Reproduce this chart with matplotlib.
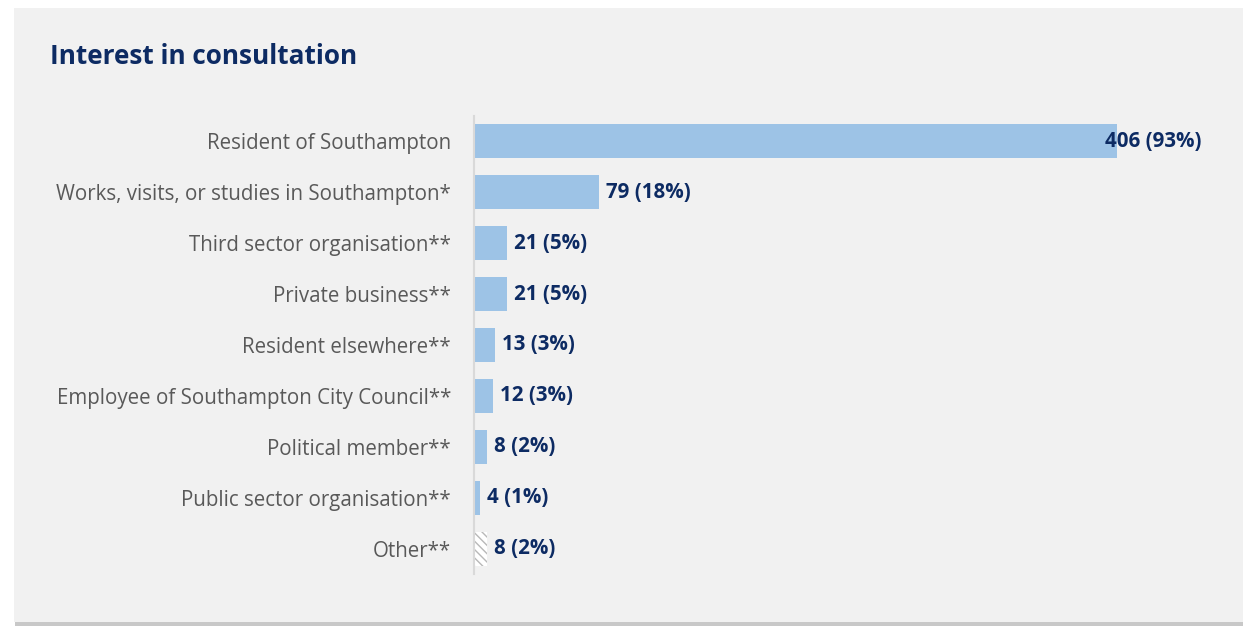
import matplotlib.pyplot as plt
from matplotlib.patches import Rectangle

# ---------- dados ----------
categories = [
    "Resident of Southampton",
    "Works, visits, or studies in Southampton*",
    "Third sector organisation**",
    "Private business**",
    "Resident elsewhere**",
    "Employee of Southampton City Council**",
    "Political member**",
    "Public sector organisation**",
    "Other**",
]
counts = [406, 79, 21, 21, 13, 12, 8, 4, 8]
percents = [93, 18, 5, 5, 3, 3, 2, 1, 2]
# -------------------------------------------

NAVY = "#0d2b63"
BAR = "#9dc3e6"
GREY_TXT = "#595959"
PANEL = "#f1f1f1"

W, H, DPI = 1243, 627, 100
plt.rcParams["font.family"] = ["Open Sans", "DejaVu Sans"]

fig = plt.figure(figsize=(W / DPI, H / DPI), dpi=DPI)
fig.patch.set_facecolor("white")

# painel com sombra
fig.patches.append(Rectangle((15 / W, 1 - 626 / H), 1.2, (626 - 9) / H,
                             transform=fig.transFigure, facecolor="#c8c8c8",
                             edgecolor="none", zorder=-10))
fig.patches.append(Rectangle((14 / W, 1 - 622 / H), 1.2, (622 - 8) / H,
                             transform=fig.transFigure, facecolor=PANEL,
                             edgecolor="none", zorder=-9))

fig.text(50 / W, 1 - 57 / H, "Interest in consultation", fontsize=18.8,
         fontweight="bold", color=NAVY, va="center", ha="left")

left, right = 474 / W, 1234 / W
bottom, top = 1 - 574 / H, 1 - 116 / H
ax = fig.add_axes([left, bottom, right - left, top - bottom])
ax.set_facecolor("none")

y = list(range(len(categories)))
for i, (c, v) in enumerate(zip(categories, counts)):
    if c.startswith("Other"):
        ax.barh(i, v, height=0.67, facecolor="white", edgecolor="#b8b8b8",
                hatch="\\\\\\\\", linewidth=0)
    else:
        ax.barh(i, v, height=0.67, color=BAR)

for i, (v, p) in enumerate(zip(counts, percents)):
    off = -12 if i == 0 else 7
    ax.annotate(f"{v} ({p}%)", xy=(v, i), xytext=(off * 72 / DPI, 0),
                textcoords="offset points", va="center", ha="left",
                fontsize=14.8, fontweight="bold", color=NAVY)

ax.set_xlim(0, 480)
ax.set_ylim(len(categories) - 0.5, -0.5)
ax.set_yticks(y)
ax.set_yticklabels(categories, fontsize=14.8, color=GREY_TXT)
ax.tick_params(axis="y", length=0, pad=23 * 72 / DPI)
ax.set_xticks([])
for s in ["top", "right", "bottom"]:
    ax.spines[s].set_visible(False)
ax.spines["left"].set_color("#d9d9d9")
ax.spines["left"].set_linewidth(1.5)

fig.savefig("out.png", dpi=DPI)
